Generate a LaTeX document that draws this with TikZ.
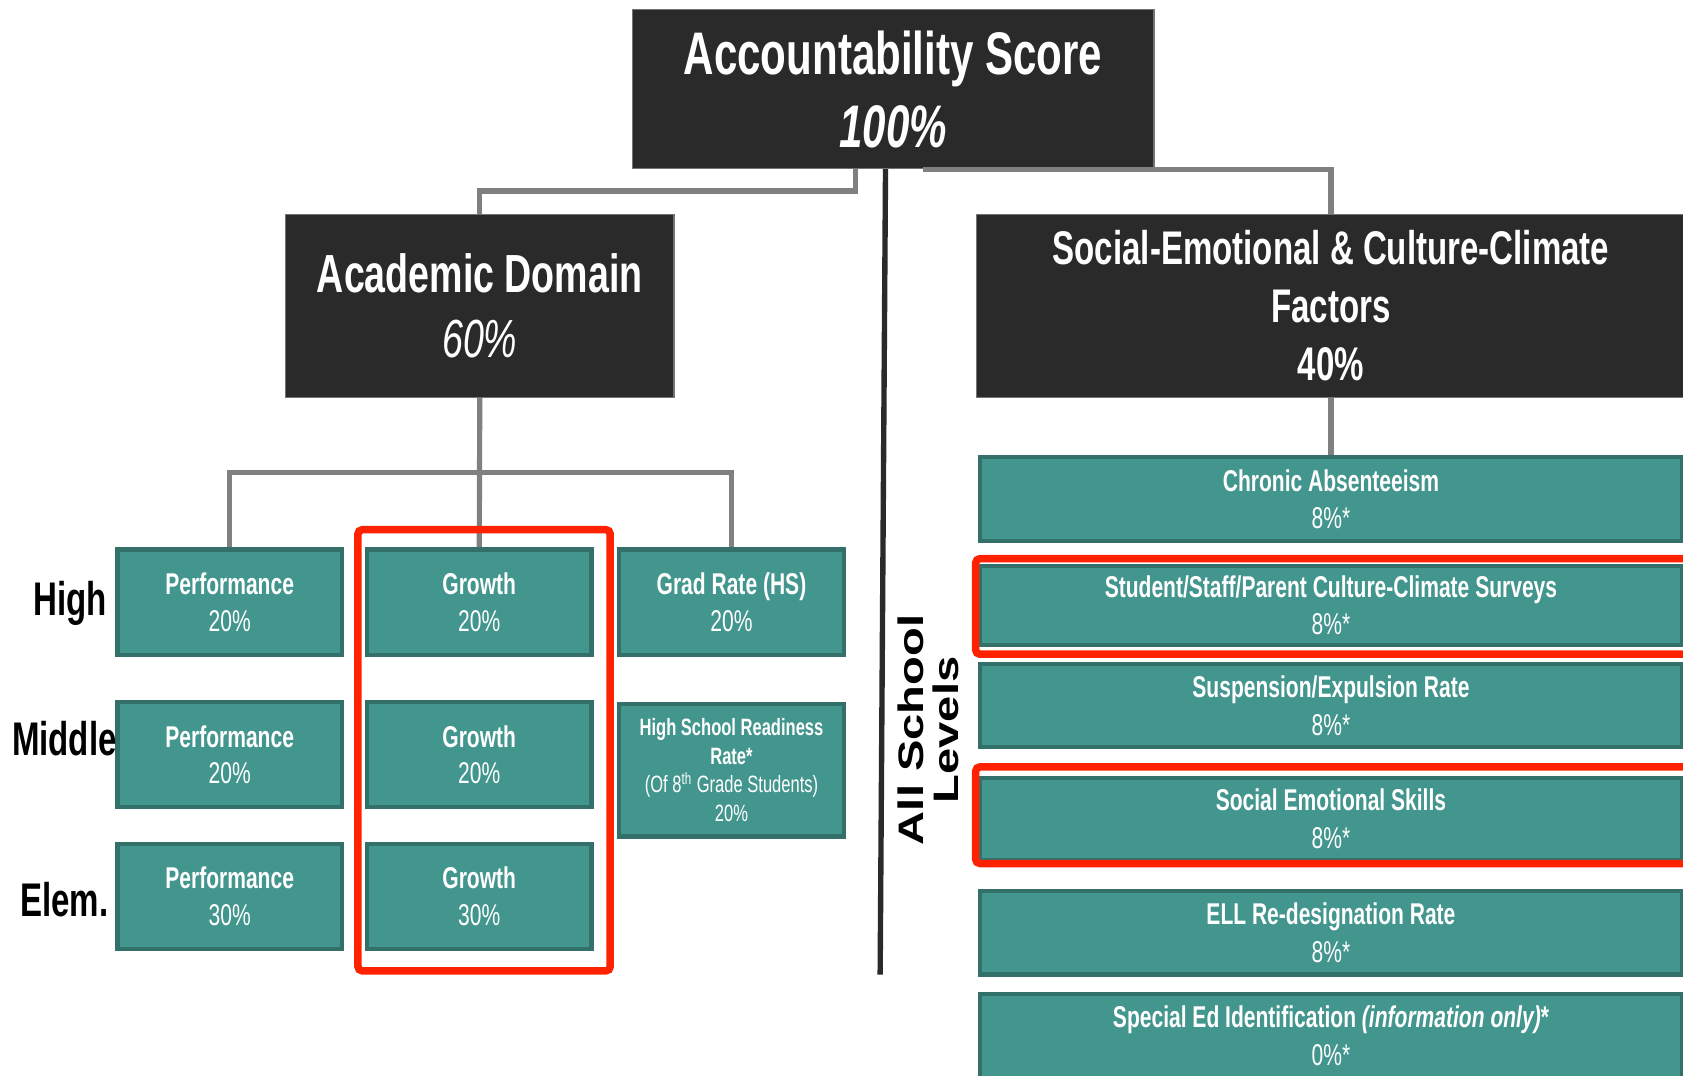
\documentclass[tikz,border=0pt]{standalone}
\usepackage{fontspec}
\setmainfont{Liberation Sans}
\newfontfamily\cond{Liberation Sans}[FakeStretch=0.7]
\newfontfamily\widefont{Liberation Sans}[FakeStretch=1.33]
\definecolor{darkbg}{HTML}{2A2A2A}
\definecolor{tealfill}{HTML}{43968E}
\definecolor{tealline}{HTML}{33706A}
\definecolor{conngray}{HTML}{808080}
\definecolor{hired}{HTML}{FF2200}
\pgfdeclarelayer{background}
\pgfsetlayers{background,main}
\begin{document}
\begin{tikzpicture}[x=0.5pt,y=-0.5pt,
  darkbox/.style={fill=darkbg, draw=black!55, line width=0.6pt, text=white, align=center, inner sep=0pt},
  tealbox/.style={fill=tealfill, draw=tealline, line width=2pt, text=white, align=center, inner sep=0pt,
     font=\cond\fontsize{14}{17}\selectfont},
  smallteal/.style={tealbox, font=\cond\fontsize{11}{13.3}\selectfont},
  wideteal/.style={tealbox, minimum width=327pt, font=\cond\fontsize{14}{17.5}\selectfont},
  leftteal/.style={tealbox, minimum width=104.5pt, minimum height=49pt},
  conn/.style={draw=conngray, line width=2.4pt},
  vline/.style={draw=darkbg, line width=2.5pt},
  redbox/.style={draw=hired, line width=3.5pt, rounded corners=2pt},
  rowlabel/.style={font=\cond\bfseries\fontsize{22}{24}\selectfont, inner sep=0pt}
]
\useasboundingbox (0,0) rectangle (1568,1002);
\clip (0,0) rectangle (1568,1002);

% dark boxes
\node[darkbox, minimum width=243pt, minimum height=74pt,
      font=\cond\bfseries\fontsize{28}{34}\selectfont] (acc) at (832,83)
      {Accountability Score\\{\itshape 100\%}};
\node[darkbox, minimum width=181pt, minimum height=85pt,
      font=\cond\bfseries\fontsize{25}{30.5}\selectfont] (acad) at (447,285)
      {Academic Domain\\{\mdseries\itshape 60\%}};
\node[darkbox, minimum width=330pt, minimum height=85pt,
      font=\cond\bfseries\fontsize{22}{27}\selectfont] (soc) at (1240,285)
      {Social-Emotional \& Culture-Climate\\Factors\\40\%};

% left teal boxes
\node[leftteal] (perfH) at (214,561)   {\textbf{Performance}\\20\%};
\node[leftteal] (growH) at (446.5,561) {\textbf{Growth}\\20\%};
\node[leftteal] (grad)  at (681.5,561) {\textbf{Grad Rate (HS)}\\20\%};
\node[leftteal] (perfM) at (214,703)   {\textbf{Performance}\\20\%};
\node[leftteal] (growM) at (446.5,703) {\textbf{Growth}\\20\%};
\node[smallteal, minimum width=104.5pt, minimum height=61.7pt] (hsr) at (681.5,717.5)
   {\textbf{High School Readiness}\\\textbf{Rate*}\\(Of 8\textsuperscript{th} Grade Students)\\20\%};
\node[leftteal] (perfE) at (214,835)   {\textbf{Performance}\\30\%};
\node[leftteal] (growE) at (446.5,835) {\textbf{Growth}\\30\%};

% right teal boxes
\node[wideteal, minimum height=39.2pt] (chronic) at (1240,465) {\textbf{Chronic Absenteeism}\\8\%*};
\node[wideteal, minimum height=37pt]   (survey)  at (1240,564) {\textbf{Student/Staff/Parent Culture-Climate Surveys}\\8\%*};
\node[wideteal, minimum height=38.7pt] (susp)    at (1240,657.5) {\textbf{Suspension/Expulsion Rate}\\8\%*};
\node[wideteal, minimum height=38pt]   (ses)     at (1240,763) {\textbf{Social Emotional Skills}\\8\%*};
\node[wideteal, minimum height=39pt]   (ell)     at (1240,869) {\textbf{ELL Re-designation Rate}\\8\%*};
\node[wideteal, minimum height=39pt]   (sped)    at (1240,965)
   {\textbf{Special Ed Identification \textit{(information only)}*}\\0\%*};

% connectors (behind the boxes)
\coordinate (ja) at (797,178);
\coordinate (js) at (860,157);
\coordinate (vt) at (825,157);
\coordinate (vb) at (820,908);
\coordinate (bar) at (447,440);
\begin{pgfonlayer}{background}
\draw[conn] (acc.south -| ja) -- (ja) -| (acad.north);
\draw[conn] (acad.south) -- (growH.north);
\draw[conn] (perfH.north) |- (bar) -| (grad.north);
\draw[conn] (soc.south) -- (chronic.north);
\end{pgfonlayer}
\draw[conn] (acc.south -| js) -| (soc.north);
\draw[vline] (acc.south -| vt) -- (vb);

% red highlights
\draw[redbox] (333.5,493.5) rectangle (568.5,904.5);
\draw[redbox] (909,520.5) rectangle (1590,609.5);
\draw[redbox] (909,714.5) rectangle (1590,804.5);

% row labels
\node[rowlabel, anchor=east] (lHigh) at (100,562) {High};
\node[rowlabel] (lMid) at (60,688) {Middle};
\node[rowlabel] (lElem) at (60,838) {Elem.};

\node[rotate=90, align=center, inner sep=0pt,
      font=\widefont\bfseries\fontsize{16.5}{16.5}\selectfont] (allsch) at (865,680)
      {All School\\Levels};
\end{tikzpicture}
\end{document}
